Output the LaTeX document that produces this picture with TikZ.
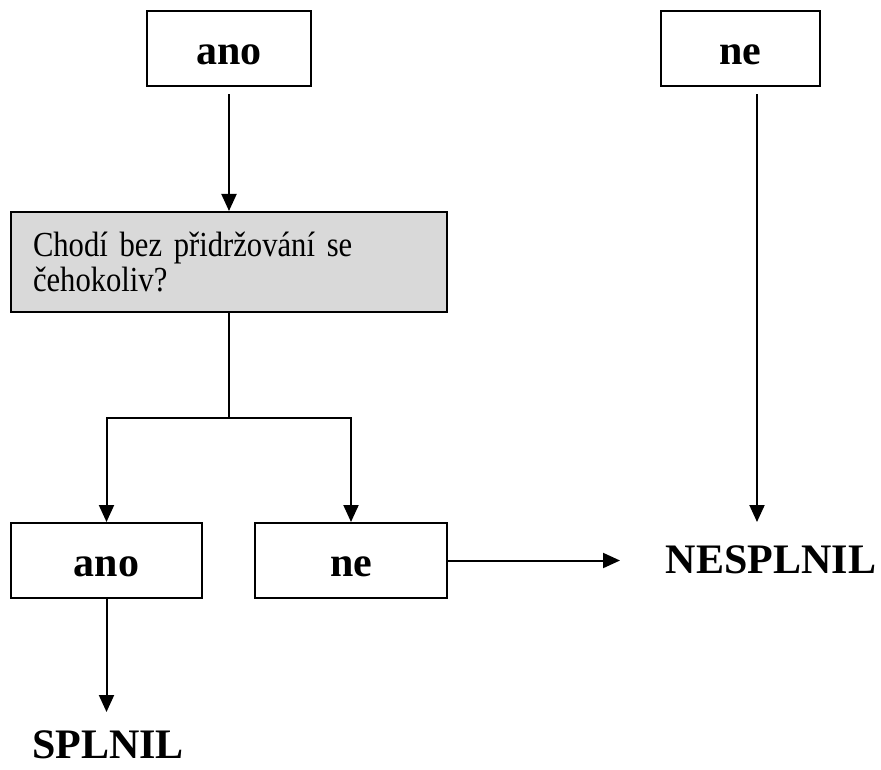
\documentclass[tikz,border=0pt]{standalone}
\usepackage{fontspec}
\setmainfont{Liberation Serif}
\newfontfamily\questfont{Liberation Serif}[FakeStretch=0.87]
\usepackage{xcolor}
\definecolor{boxgray}{rgb}{0.85,0.85,0.85}
\usetikzlibrary{arrows.meta}

\begin{document}
\begin{tikzpicture}[x=0.5pt,y=-0.5pt,line width=1pt,
        box/.style = {draw, rectangle, minimum height=37.5pt, inner sep=0pt,
            text height=16pt, text depth=0pt, font=\fontsize{21}{25}\selectfont\bfseries},
        result/.style = {inner sep=0pt, font=\fontsize{21}{25}\selectfont\bfseries},
        question/.style = {draw, fill=boxgray, minimum width=218pt, minimum height=50pt,
            inner xsep=11pt, text width=196pt, align=left, font=\questfont\fontsize{17.6}{17.5}\selectfont},
        arrow/.style = {-{Triangle[width=7.5pt,length=8.5pt]}}]
        \useasboundingbox (0,0) rectangle (881,769);

        % Top answers
        \node[box,minimum width=82pt] (ano) at (229,49) {ano};
        \node[box,minimum width=79.5pt] (ne) at (740.5,49) {ne};

        % Question
        \node[question] (chodi) at (229,262) {Chodí bez přidržování se\\čehokoliv?};

        % Second answers
        \node[box,minimum width=95.5pt] (ano2) at (106.5,560.5) {ano};
        \node[box,minimum width=96pt] (ne2) at (351,560.5) {ne};

        % Results
        \node[result] (nesplnil) at (771,560) {NESPLNIL};
        \node[result] (splnil) at (108,744.5) {SPLNIL};

        % Arrow ends
        \coordinate (split) at (229,418);
        \coordinate (netip) at (620,560.5);
        \coordinate (nearrow) at (757,522);
        \coordinate (splarrow) at (106.5,712);

        % Connectors
        \draw[arrow,shorten <=3.5pt] (ano) -- (chodi);
        \draw (chodi) -- (split);
        \draw[arrow] (split) -| (ano2);
        \draw[arrow] (split) -| (ne2);
        \draw[arrow] (ne2) -- (netip);
        \draw[arrow,shorten <=3.5pt] (ne.south -| nearrow) -- (nearrow);
        \draw[arrow] (ano2) -- (splarrow);
    \end{tikzpicture}
\end{document}
